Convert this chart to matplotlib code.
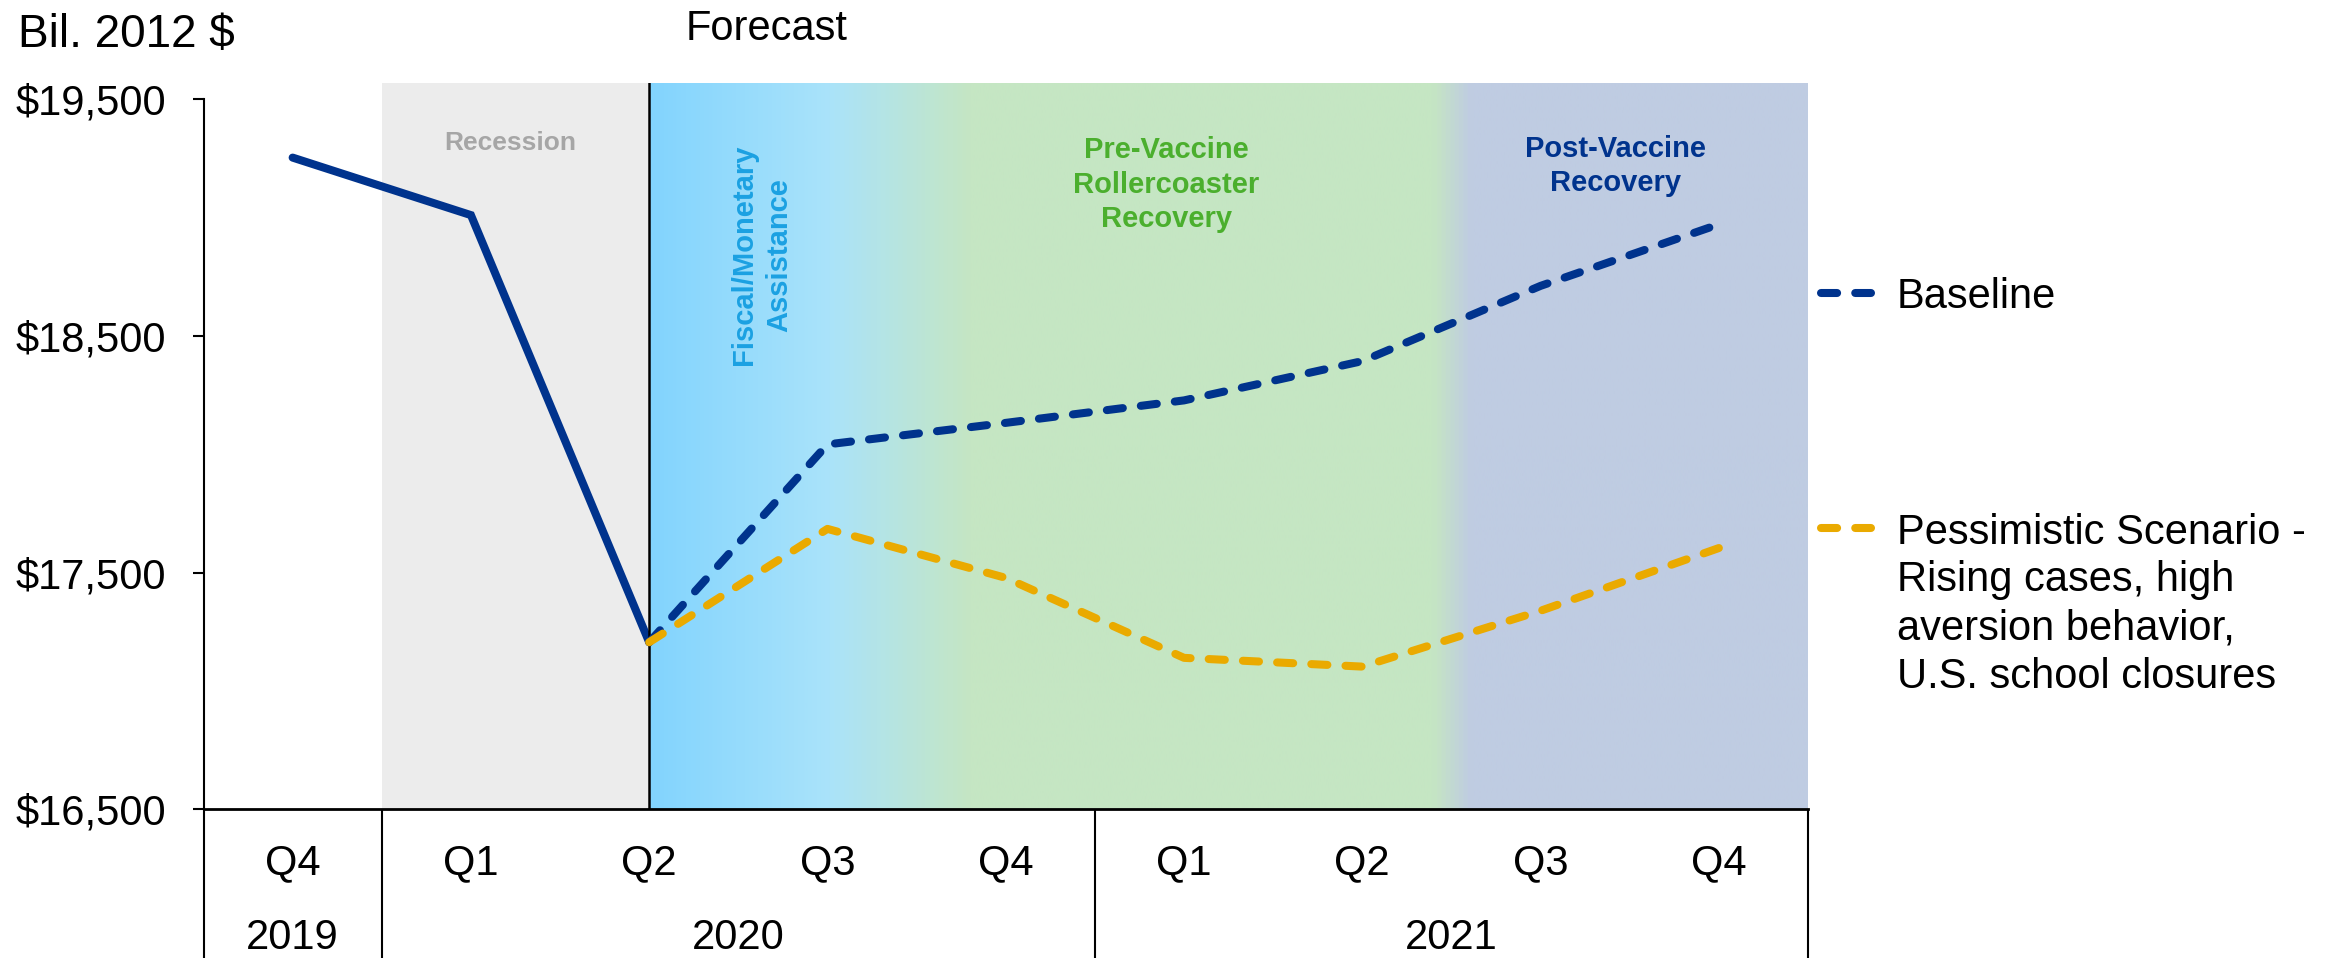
import numpy as np
import matplotlib
matplotlib.use("Agg")
import matplotlib.pyplot as plt
from matplotlib.colors import LinearSegmentedColormap
from matplotlib.lines import Line2D
from matplotlib.ticker import FuncFormatter

# ---- data -------------------------------------------------------------
quarters = ["Q4", "Q1", "Q2", "Q3", "Q4", "Q1", "Q2", "Q3", "Q4"]
years = ["2019", "2020", "2021"]
quarters_per_year = [1, 4, 4]

# Real GDP, billions of 2012 dollars
actual = [19254, 19011, 17206]                                  # Q4 2019 - Q2 2020
baseline = [17206, 18042, 18133, 18228, 18394, 18712, 18972]     # Q2 2020 - Q4 2021
pessimistic = [17206, 17685, 17478, 17140, 17103, 17339, 17604]  # Q2 2020 - Q4 2021

y_ticks = [16500, 17500, 18500, 19500]
series_labels = [["Baseline"],
                 ["Pessimistic Scenario -", "Rising cases, high",
                  "aversion behavior,", "U.S. school closures"]]

# ---- style ------------------------------------------------------------
plt.rcParams["font.family"] = ["Liberation Sans", "DejaVu Sans"]
NAVY = "#00338D"
GOLD = "#EAAA00"
LW = 5.8
DASH = (0, (2.0, 2.25))

W, H = 2335, 958
fig = plt.figure(figsize=(W / 100, H / 100), dpi=100)


def fx(px):
    return px / W


def fy(py):
    return 1 - py / H


y_lo, y_hi = 16500, 19568
ax = fig.add_axes([fx(203.5), fy(809.3), fx(1808) - fx(203.5), fy(83.3) - fy(809.3)])

forecast_start = len(actual) - 1

# phase shading
ax.axvspan(0.5, forecast_start, ymin=0, ymax=1, color="#ECECEC", lw=0, zorder=0)
stops = [(2.0, "#82D4FE"), (3.0, "#AAE3FA"), (3.8, "#C5E6C3"),
         (6.4, "#C5E6C3"), (6.62, "#BFCCE2"), (8.5, "#BFCCE2")]
x0, x1 = stops[0][0], stops[-1][0]
cmap = LinearSegmentedColormap.from_list(
    "phases", [((x - x0) / (x1 - x0), c) for x, c in stops])
ax.imshow(np.linspace(0, 1, 800).reshape(1, -1), cmap=cmap, aspect="auto",
          extent=(x0, x1, y_lo, y_hi), interpolation="bilinear", zorder=0)
ax.set_xlim(-0.5, len(quarters) - 0.5)
ax.set_ylim(y_lo, y_hi)

# series
x_act = np.arange(len(actual))
x_fc = np.arange(forecast_start, forecast_start + len(baseline))
ax.plot(x_act, actual, color=NAVY, lw=LW, solid_capstyle="round",
        solid_joinstyle="miter", zorder=3)
ax.axvline(forecast_start, color="black", lw=1.8, zorder=4)
ax.plot(x_fc, baseline, color=NAVY, lw=LW, linestyle=DASH,
        dash_capstyle="round", zorder=5)
ax.plot(x_fc, pessimistic, color=GOLD, lw=LW, linestyle=DASH,
        dash_capstyle="round", zorder=6)

# axes
for s in ("top", "right"):
    ax.spines[s].set_visible(False)
ax.spines["left"].set_bounds(16500, 19500)
ax.spines["left"].set_linewidth(1.5)
ax.spines["bottom"].set_linewidth(2.0)
ax.spines["bottom"].set_zorder(7)
ax.set_yticks(y_ticks)
ax.yaxis.set_major_formatter(FuncFormatter(lambda v, _: f"${v:,.0f}"))
ax.tick_params(axis="y", direction="out", length=8, width=1.5, pad=19, labelsize=30)
ax.set_xticks([])

# category table below the plot
xt = ax.get_xaxis_transform()
edges = np.cumsum([0] + quarters_per_year) - 0.5
for e in edges:
    ax.plot([e, e], [0, -0.22], transform=xt, color="black", lw=1.5,
            clip_on=False, solid_capstyle="butt")
for i, q in enumerate(quarters):
    ax.text(i, -0.0685, q, transform=xt, ha="center", va="center_baseline",
            fontsize=30)
for y, a, b in zip(years, edges[:-1], edges[1:]):
    ax.text((a + b) / 2, -0.171, y, transform=xt, ha="center",
            va="center_baseline", fontsize=30)

# phase annotations
ax.text(1.22, 19328, "Recession", ha="center", va="center_baseline",
        fontsize=19, fontweight="bold", color="#A6A6A6")
ax.text(2.63, 18842, "Fiscal/Monetary\nAssistance", rotation=90, ha="center",
        va="center", multialignment="center", fontsize=21, fontweight="bold",
        color="#1BA1E2", linespacing=1.3)
ax.text(4.9, 19140, "Pre-Vaccine\nRollercoaster\nRecovery", ha="center",
        va="center", multialignment="center", fontsize=21, fontweight="bold",
        color="#4BAF2E", linespacing=1.3)
ax.text(7.42, 19218, "Post-Vaccine\nRecovery", ha="center", va="center",
        multialignment="center", fontsize=21, fontweight="bold",
        color=NAVY, linespacing=1.3)

# titles
fig.text(fx(18), fy(30), "Bil. 2012 $", ha="left", va="center_baseline", fontsize=33)
fig.text(fx(686), fy(25), "Forecast", ha="left", va="center_baseline", fontsize=30)

# legend: handle aligned with the first line of each label
for lines, color, ly in zip(series_labels, [NAVY, GOLD], [293, 528]):
    fig.add_artist(Line2D([fx(1821), fx(1871)], [fy(ly), fy(ly)], color=color,
                          lw=LW, linestyle=DASH, dash_capstyle="round"))
    for k, line in enumerate(lines):
        fig.text(fx(1897), fy(ly + 48 * k), line, ha="left",
                 va="center_baseline", fontsize=30)

fig.savefig("out.png", dpi=100)
